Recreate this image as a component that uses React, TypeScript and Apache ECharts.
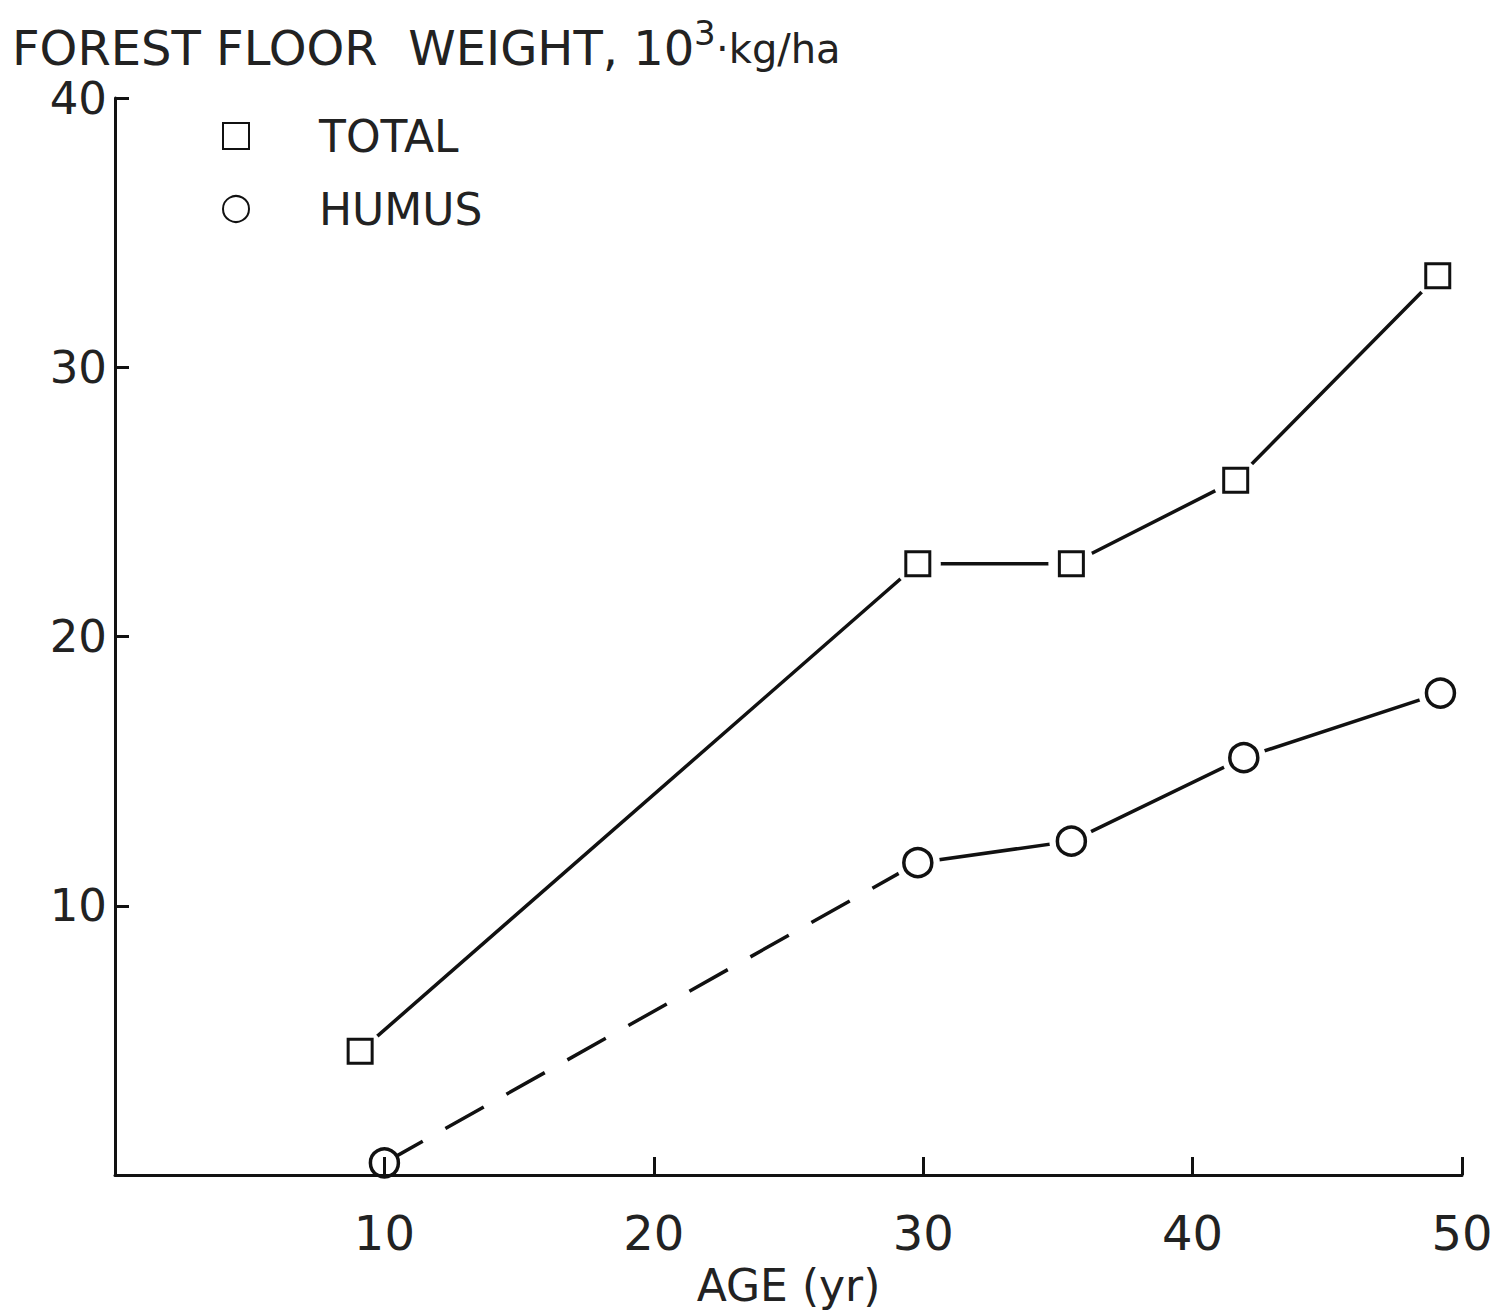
import React, { useEffect, useRef } from "react";
import * as echarts from "echarts";

// Stand age (yr) and forest floor weight (10^3 kg/ha)
const TOTAL_AGE = [9.1, 29.8, 35.5, 41.6, 49.1];
const TOTAL_WEIGHT = [4.6, 22.7, 22.7, 25.8, 33.4];
const HUMUS_AGE = [10, 29.8, 35.5, 41.9, 49.2];
const HUMUS_WEIGHT = [0.45, 11.6, 12.4, 15.5, 17.9];

const X_MIN = 0;
const X_MAX = 50;
const Y_MIN = 0;
const Y_MAX = 40;
const TICK_STEP = 10;

const INK = "#111111";
const TEXT = "#222222";
const FONT = "'DejaVu Sans', 'Liberation Sans', sans-serif";

const pairs = (xs: number[], ys: number[]) => xs.map((x, i) => [x, ys[i]]);

export default function App() {
  const ref = useRef<HTMLDivElement>(null);

  useEffect(() => {
    if (!ref.current) return;
    const chart = echarts.init(ref.current, undefined, { renderer: "svg" });

    const total = pairs(TOTAL_AGE, TOTAL_WEIGHT);
    const humus = pairs(HUMUS_AGE, HUMUS_WEIGHT);

    const lineBase = {
      type: "line" as const,
      showSymbol: false,
      silent: true,
      z: 2,
    };

    const titleText = (size: number, lh: number) => ({
      fontFamily: FONT,
      fontSize: size,
      lineHeight: lh,
      fontWeight: "normal" as const,
      color: TEXT,
    });

    chart.setOption({
      animation: false,
      backgroundColor: "#ffffff",
      // y-axis heading with its raised exponent
      title: [
        {
          text: "FOREST FLOOR  WEIGHT, 10",
          left: 12,
          top: 28,
          padding: 0,
          textStyle: titleText(48, 40),
        },
        {
          text: "3",
          left: 694,
          top: 18,
          padding: 0,
          textStyle: titleText(34, 30),
        },
        {
          text: "·kg/ha",
          left: 716,
          top: 31,
          padding: 0,
          textStyle: titleText(40, 36),
        },
      ],
      legend: {
        data: ["TOTAL", "HUMUS"],
        orient: "vertical",
        left: 222,
        top: 113,
        padding: 0,
        itemGap: 27,
        itemWidth: 26,
        itemHeight: 26,
        selectedMode: false,
        textStyle: {
          fontFamily: FONT,
          fontSize: 44,
          lineHeight: 46,
          color: TEXT,
          padding: [0, 0, 0, 65],
        },
      },
      grid: {
        left: 115,
        right: 38,
        top: 98,
        bottom: 139,
        containLabel: false,
      },
      xAxis: {
        type: "value",
        min: X_MIN,
        max: X_MAX,
        interval: TICK_STEP,
        name: "AGE (yr)",
        nameLocation: "middle",
        nameGap: 88,
        nameTextStyle: { fontFamily: FONT, fontSize: 44, color: TEXT },
        axisLine: { onZero: false, lineStyle: { color: INK, width: 3 } },
        axisTick: { inside: true, length: 18, lineStyle: { color: INK, width: 3 } },
        axisLabel: {
          margin: 34,
          fontFamily: FONT,
          fontSize: 48,
          color: TEXT,
          formatter: (v: number) => (v === 0 ? "" : String(v)),
        },
        splitLine: { show: false },
        z: 5,
      },
      yAxis: {
        type: "value",
        min: Y_MIN,
        max: Y_MAX,
        interval: TICK_STEP,
        axisLine: { onZero: false, lineStyle: { color: INK, width: 3 } },
        axisTick: { inside: true, length: 14, lineStyle: { color: INK, width: 3 } },
        axisLabel: {
          margin: 8,
          fontFamily: FONT,
          fontSize: 45,
          lineHeight: 45,
          color: TEXT,
          formatter: (v: number) => (v === 0 ? "" : String(v)),
        },
        splitLine: { show: false },
      },
      series: [
        {
          ...lineBase,
          name: "total-line",
          data: total,
          lineStyle: { color: INK, width: 3.5 },
        },
        {
          ...lineBase,
          name: "humus-dashed",
          data: humus.slice(0, 2),
          lineStyle: { color: INK, width: 3.5, type: [44, 26] },
        },
        {
          ...lineBase,
          name: "humus-line",
          data: humus.slice(1),
          lineStyle: { color: INK, width: 3.5 },
        },
        // white halos leave a small gap between each line and its markers
        {
          type: "scatter",
          name: "total-halo",
          data: total,
          symbol: "circle",
          symbolSize: 46,
          itemStyle: { color: "#ffffff", opacity: 1 },
          silent: true,
          clip: false,
          z: 3,
        },
        {
          type: "scatter",
          name: "humus-halo",
          data: humus.slice(1),
          symbol: "circle",
          symbolSize: 44,
          itemStyle: { color: "#ffffff", opacity: 1 },
          silent: true,
          clip: false,
          z: 3,
        },
        {
          type: "scatter",
          name: "TOTAL",
          data: total,
          symbol: "rect",
          symbolSize: 24,
          itemStyle: { color: "#ffffff", borderColor: INK, borderWidth: 3, opacity: 1 },
          clip: false,
          z: 4,
        },
        {
          type: "scatter",
          name: "HUMUS",
          data: humus,
          symbol: "circle",
          symbolSize: 28,
          itemStyle: { color: "#ffffff", borderColor: INK, borderWidth: 3.5, opacity: 1 },
          clip: false,
          z: 4,
        },
      ],
    });

    return () => chart.dispose();
  }, []);

  return (
    <div
      ref={ref}
      style={{ position: "absolute", left: 0, top: 0, width: 1500, height: 1314 }}
    />
  );
}
